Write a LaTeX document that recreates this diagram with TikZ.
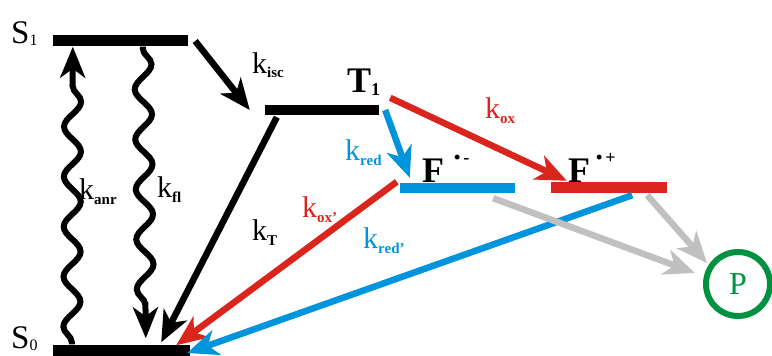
\documentclass[tikz,border=0pt]{standalone}
\usepackage{fontspec}
\setmainfont{Liberation Serif}
\usetikzlibrary{arrows.meta,decorations.pathmorphing}
\definecolor{fred}{RGB}{218,37,29}
\definecolor{fblue}{RGB}{0,148,221}
\definecolor{fgray}{RGB}{192,192,192}
\definecolor{pgreen}{RGB}{0,146,63}
\newcommand\ksub[1]{\raisebox{-5pt}{\fontsize{15}{15}\selectfont\bfseries #1}}
\newcommand\lsub[1]{\raisebox{-2pt}{\fontsize{16}{16}\selectfont #1}}
\newcommand\rsup[1]{\raisebox{19pt}{\fontsize{18}{18}\selectfont #1}}
\begin{document}
\begin{tikzpicture}[x=1pt,y=-1pt,
  level/.style={fill=black, inner sep=0pt, minimum height=11pt},
  arr/.style={line width=6.5pt, -{Stealth[length=31pt,width=26pt,inset=9pt]}},
  wavy/.style={line width=6pt, decorate,
     decoration={snake, amplitude=8.5pt, segment length=50pt, post length=32pt, pre length=2pt},
     -{Stealth[length=31pt,width=25pt,inset=9pt]}},
  lab/.style={anchor=base west, inner sep=0pt, font=\fontsize{30}{30}\selectfont},
  big/.style={anchor=base west, inner sep=0pt, font=\fontsize{36}{36}\selectfont\bfseries}]
\useasboundingbox (0,0) rectangle (772,356);

% levels
\node[level, minimum width=135pt] (S1) at (120.5,40) {};
\node[level, minimum width=114pt, minimum height=10pt] (T1) at (322,110) {};
\node[level, fill=fblue, minimum width=115pt, minimum height=10pt] (Fm) at (457.5,188) {};
\node[level, fill=fred, minimum width=116pt] (Fp) at (609,187.5) {};
\node[level, minimum width=137pt] (S0) at (121.5,350) {};
\node[circle, draw=pgreen, line width=6pt, minimum size=64pt, inner sep=0pt,
      text=pgreen, font=\fontsize{32}{32}\selectfont] (P) at (738,284) {P};

% level labels
\node[lab, font=\fontsize{33}{33}\selectfont] (LS1) at (11,43) {S\lsub{1}};
\node[lab, font=\fontsize{33}{33}\selectfont] (LS0) at (11,348) {S\lsub{0}};
\node[big] (LT1) at (347,92) {T\raisebox{-3pt}{\fontsize{18}{18}\selectfont 1}};
\node[big] (LFm) at (422,182) {F\hspace{10pt}\rsup{•\,-}};
\node[big] (LFp) at (568,182) {F\hspace{6pt}\rsup{•\,+}};

% wavy arrows
\draw[wavy] ([shift={(19,0)}]S0.north west) -- ([shift={(20,1)}]S1.south west);
\draw[wavy] ([shift={(90,1)}]S1.south west) -- ([shift={(93,-6)}]S0.north west);

% straight arrows
\draw[arr] ([shift={(7,1)}]S1.east) -- ([shift={(-15,0)}]T1.west);
\draw[arr] ([shift={(12,2)}]T1.south west) -- ([shift={(-29,-2)}]S0.north east);
\draw[arr, fred] ([shift={(-3,-1)}]Fm.north west) -- ([shift={(-14,1)}]S0.north east);
\draw[arr, fblue] ([shift={(-35,2)}]Fp.south east) -- ([shift={(-3,3)}]S0.east);
\draw[arr, fblue] ([shift={(6,0)}]T1.east) -- ([shift={(10,-5)}]Fm.north west);
\draw[arr, fred] ([shift={(11,-7)}]T1.north east) -- ([shift={(16,-1)}]Fp.north west);
\draw[arr, fgray] ([shift={(-22,5)}]Fm.south east) -- ([shift={(-8,-11)}]P.west);
\draw[arr, fgray] ([shift={(-20,2)}]Fp.south east) -- ([shift={(4,-21)}]P.west);

% rate labels
\node[lab] (kisc) at (252,73) {k\ksub{isc}};
\node[lab] (kanr) at (79,199) {k\ksub{anr}};
\node[lab] (kfl) at (157,197) {k\ksub{fl}};
\node[lab] (kT) at (252,240) {k\ksub{T}};
\node[lab, text=fred] (koxp) at (302,217) {k\ksub{ox’}};
\node[lab, text=fblue] (kredp) at (363,248) {k\ksub{red’}};
\node[lab, text=fblue] (kred) at (345,160) {k\ksub{red}};
\node[lab, text=fred] (kox) at (485,118) {k\ksub{ox}};
\end{tikzpicture}
\end{document}
